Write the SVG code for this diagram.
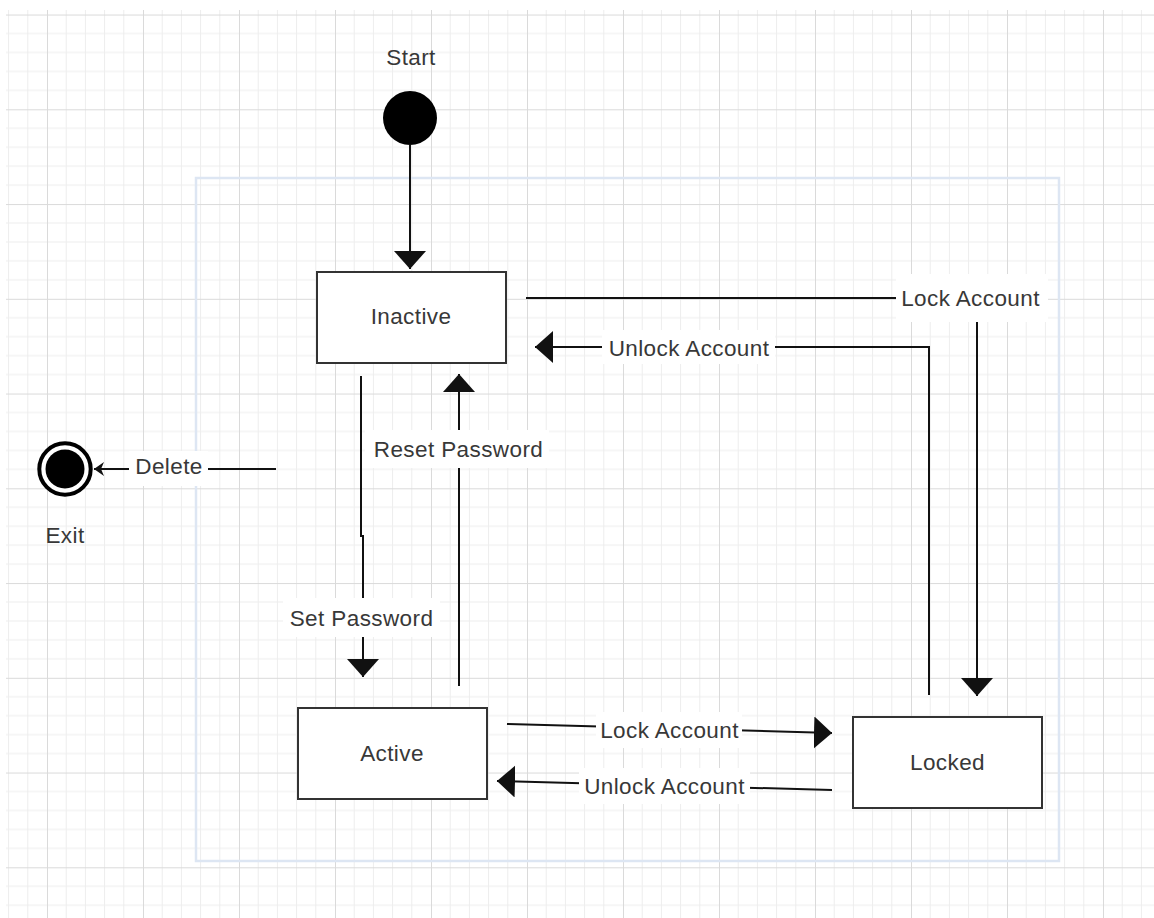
<svg xmlns="http://www.w3.org/2000/svg" width="1154" height="918" viewBox="0 0 1154 918">
<style>
  .lbl { font-family: "Liberation Sans", Arial, sans-serif; font-size: 22.5px; letter-spacing: 0.4px; fill: #383838; text-anchor: middle; }
  .box { fill: #fff; stroke: #333; stroke-width: 2; }
  .edge { fill: none; stroke: #111; stroke-width: 2; }
  .bg { fill: #fff; }
</style>
<defs>
  <pattern id="grid" patternUnits="userSpaceOnUse" x="47" y="109.3" width="96" height="94.75">
    <g stroke="#ededed" stroke-width="1">
      <line x1="19.2" y1="0" x2="19.2" y2="94.75"/>
      <line x1="38.4" y1="0" x2="38.4" y2="94.75"/>
      <line x1="57.6" y1="0" x2="57.6" y2="94.75"/>
      <line x1="76.8" y1="0" x2="76.8" y2="94.75"/>
      <line x1="0" y1="18.95" x2="96" y2="18.95"/>
      <line x1="0" y1="37.9" x2="96" y2="37.9"/>
      <line x1="0" y1="56.85" x2="96" y2="56.85"/>
      <line x1="0" y1="75.8" x2="96" y2="75.8"/>
    </g>
    <g stroke="#dadada" stroke-width="1">
      <line x1="0.5" y1="0" x2="0.5" y2="94.75"/>
      <line x1="0" y1="0.5" x2="96" y2="0.5"/>
    </g>
  </pattern>
  <marker id="block" viewBox="0 0 18 32" refX="18" refY="16" markerWidth="18" markerHeight="32" markerUnits="userSpaceOnUse" orient="auto">
    <path d="M0,0 L18,16 L0,32 Z" fill="#111"/>
  </marker>
  <marker id="classic" viewBox="0 0 10 14" refX="10" refY="7" markerWidth="10" markerHeight="14" markerUnits="userSpaceOnUse" orient="auto">
    <path d="M0,0 L10,7 L0,14 L3,7 Z" fill="#111"/>
  </marker>
</defs>

<rect x="6" y="10" width="1148" height="908" fill="url(#grid)"/>

<g id="container">
  <rect x="196" y="178" width="863" height="683" fill="none" stroke="#dde6f3" stroke-width="2.5"/>
</g>

<g id="connectors">
  <path class="edge" d="M410,145 L410,269" marker-end="url(#block)"/>
  <path class="edge" d="M526,298 L977,298 L977,696" marker-end="url(#block)"/>
  <path class="edge" d="M929,695 L929,347 L535,347" marker-end="url(#block)"/>
  <path class="edge" d="M361,376 L361,536 L363,536 L363,677" marker-end="url(#block)"/>
  <path class="edge" d="M459,686 L459,374" marker-end="url(#block)"/>
  <path class="edge" d="M507,724 L832,733" marker-end="url(#block)"/>
  <path class="edge" d="M832,790 L497,781" marker-end="url(#block)"/>
  <path class="edge" d="M276,469 L94,469" marker-end="url(#classic)"/>

  <rect class="bg" x="896" y="274" width="152" height="48"/>
  <text class="lbl" x="970.5" y="305.5">Lock Account</text>
  <rect class="bg" x="602" y="330" width="173" height="34"/>
  <text class="lbl" x="689" y="356">Unlock Account</text>
  <rect class="bg" x="283" y="598" width="157" height="39"/>
  <text class="lbl" x="361.5" y="625.5">Set Password</text>
  <rect class="bg" x="365" y="430" width="184" height="38"/>
  <text class="lbl" x="458.5" y="456.5">Reset Password</text>
  <rect class="bg" x="596" y="712" width="146" height="36"/>
  <text class="lbl" x="669.5" y="738">Lock Account</text>
  <rect class="bg" x="579" y="768" width="171" height="36"/>
  <text class="lbl" x="664.5" y="794">Unlock Account</text>
  <rect class="bg" x="129" y="451" width="79" height="35"/>
  <text class="lbl" x="169" y="474">Delete</text>
</g>

<g id="start">
  <text class="lbl" x="411" y="65">Start</text>
  <circle cx="410" cy="118" r="27" fill="#000"/>
</g>

<g id="inactive">
  <rect class="box" x="317" y="272" width="189" height="91"/>
  <text class="lbl" x="411" y="324">Inactive</text>
</g>

<g id="active">
  <rect class="box" x="298" y="708" width="189" height="91"/>
  <text class="lbl" x="392" y="760.5">Active</text>
</g>

<g id="locked">
  <rect class="box" x="853" y="717" width="189" height="91"/>
  <text class="lbl" x="947.5" y="770">Locked</text>
</g>

<g id="exit">
  <circle cx="65" cy="469" r="25.7" fill="#fff" stroke="#000" stroke-width="4"/>
  <circle cx="65" cy="469" r="19.5" fill="#000"/>
  <text class="lbl" x="65" y="542.5">Exit</text>
</g>
</svg>
